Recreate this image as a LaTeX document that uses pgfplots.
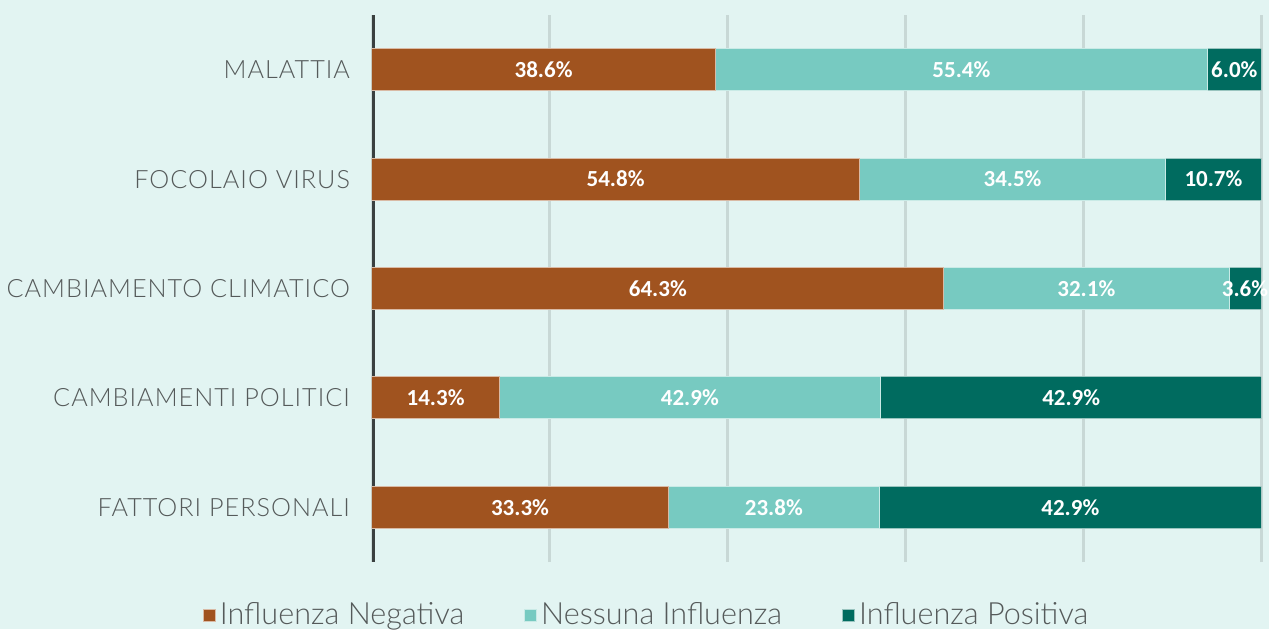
\documentclass[border=0pt]{standalone}
\usepackage{fontspec}
\newfontfamily\lightfont{Lato}[UprightFont=* Light]
\newfontfamily\lightfontsp{Lato}[UprightFont=* Light, LetterSpace=4]
\newfontfamily\barfont{Carlito}
\usepackage{pgfplots}
\pgfplotsset{compat=1.18}
\definecolor{bg}{HTML}{E2F4F2}
\definecolor{neg}{HTML}{A0531F}
\definecolor{nes}{HTML}{77CAC1}
\definecolor{pos}{HTML}{006B5F}
\definecolor{axgray}{HTML}{3A4040}
\definecolor{gridc}{HTML}{C8D8D6}
\definecolor{labgray}{HTML}{555A5A}
\pgfplotstableread{
x y
38.6 4
54.8 3
64.3 2
14.3 1
33.3 0
}\negdata
\pgfplotstableread{
x y
55.4 4
34.5 3
32.1 2
42.9 1
23.8 0
}\nesdata
\pgfplotstableread{
x y
6.0 4
10.7 3
3.6 2
42.8 1
42.9 0
}\posdata
\pgfplotstableread{
x y v
19.3 4 38.6
66.3 4 55.4
97.0 4 6.0
27.4 3 54.8
72.05 3 34.5
94.65 3 10.7
32.15 2 64.3
80.35 2 32.1
98.2 2 3.6
7.15 1 14.3
35.75 1 42.9
78.65 1 42.9
16.65 0 33.3
45.2 0 23.8
78.55 0 42.9
}\labdata
\begin{document}
\begin{tikzpicture}
\fill[bg] (0,0) rectangle (634.5pt,314.5pt);
\useasboundingbox (0,0) rectangle (634.5pt,314.5pt);
\begin{axis}[
  at={(186pt,33.5pt)}, anchor=south west,
  width=444.5pt, height=273.5pt, scale only axis,
  xbar stacked, bar width=21pt,
  xmin=0, xmax=100, ymin=-0.5, ymax=4.5,
  ytick={0,1,2,3,4},
  yticklabels={FATTORI PERSONALI, CAMBIAMENTI POLITICI, CAMBIAMENTO CLIMATICO, FOCOLAIO VIRUS, MALATTIA},
  yticklabel style={font=\lightfontsp\fontsize{12.6}{12.6}\selectfont, color=labgray, xshift=-7.5pt},
  xtick={20,40,60,80,100}, xticklabels={},
  xmajorgrids, grid style={gridc, line width=1.5pt},
  axis line style={draw=none}, tick style={draw=none},
  legend style={at={(0.31,-0.097)}, anchor=center, legend columns=3, draw=none, fill=none,
    font=\lightfont\fontsize{15.3}{15.3}\selectfont, text=labgray,
    /tikz/every even column/.append style={column sep=28pt}},
  legend image code/.code={\fill[#1] (0pt,-3pt) rectangle (6pt,3pt);},
]
\addplot[fill=neg, draw=neg!40!white, line width=0.5pt] table[x=x,y=y]{\negdata};
\addlegendentry{Influenza Negativa}
\addplot[fill=nes, draw=nes!40!white, line width=0.5pt] table[x=x,y=y]{\nesdata};
\addlegendentry{Nessuna Influenza}
\addplot[fill=pos, draw=pos!40!white, line width=0.5pt] table[x=x,y=y]{\posdata};
\addlegendentry{Influenza Positiva}
\draw[axgray, line width=3pt] (rel axis cs:0,0) -- (rel axis cs:0,1);
\end{axis}
\begin{axis}[
  at={(186pt,33.5pt)}, anchor=south west,
  width=444.5pt, height=273.5pt, scale only axis,
  xmin=0, xmax=100, ymin=-0.5, ymax=4.5, hide axis, clip=false,
]
\addplot[draw=none, mark=none, point meta=explicit,
  nodes near coords={\pgfmathprintnumber[fixed,fixed zerofill,precision=1,assume math mode=true]{\pgfplotspointmeta}\%},
  nodes near coords style={anchor=center, text=white, font=\barfont\bfseries\fontsize{11.5}{11.5}\selectfont}]
  table[x=x,y=y,meta=v]{\labdata};
\end{axis}
\end{tikzpicture}
\end{document}
